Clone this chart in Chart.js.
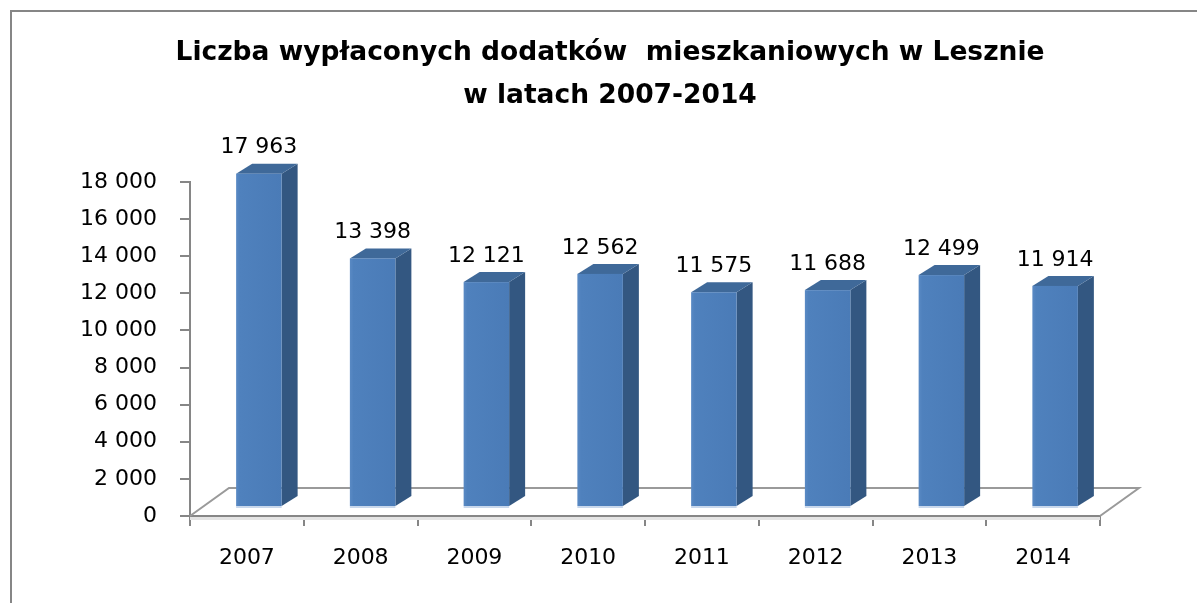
<!DOCTYPE html>
<html>
<head>
<meta charset="utf-8">
<title>Dodatki mieszkaniowe w Lesznie</title>
<script src="https://cdn.jsdelivr.net/npm/chart.js@4.4.0/dist/chart.umd.min.js"></script>
<style>
  html, body { margin: 0; padding: 0; background: #fff; }
  #wrap { width: 1197px; height: 603px; }
</style>
</head>
<body>
<div id="wrap"><canvas id="dodatki" width="1197" height="603"></canvas></div>
<script>
var years = ["2007", "2008", "2009", "2010", "2011", "2012", "2013", "2014"];
var payments = [17963, 13398, 12121, 12562, 11575, 11688, 12499, 11914];
var yTicks = [0, 2000, 4000, 6000, 8000, 10000, 12000, 14000, 16000, 18000];
var titleLines = ["Liczba wypłaconych dodatków  mieszkaniowych w Lesznie", "w latach 2007-2014"];

var numFont = "'DejaVu Sans', Verdana, sans-serif";
var frameGray = "#868686";

// 18000 -> "18 000"
function spaced(n) {
  return String(n).replace(/\B(?=(\d{3})+(?!\d))/g, " ");
}

// depth of the 3D columns and of the floor
var barDepth = { dx: 16, dy: -10 };
var barLift = 9;
var barShift = 12;
var floorDepth = { dx: 39, dy: -28 };

// outer frame and the two-line title; the frame runs past the right edge,
// so the title is centred on the whole frame, not on the canvas
var framePlugin = {
  id: 'frame',
  beforeDraw: function(chart) {
    var ctx = chart.ctx;
    ctx.save();
    ctx.fillStyle = "#fff";
    ctx.fillRect(0, 0, chart.width, chart.height);
    ctx.strokeStyle = frameGray;
    ctx.lineWidth = 2;
    ctx.beginPath();
    ctx.moveTo(11, chart.height);
    ctx.lineTo(11, 11);
    ctx.lineTo(chart.width, 11);
    ctx.stroke();

    ctx.fillStyle = "#000";
    ctx.font = "bold 26.5px 'DejaVu Sans', sans-serif";
    ctx.textAlign = "center";
    ctx.textBaseline = "middle";
    titleLines.forEach(function(line, i) {
      ctx.fillText(line, 610, 53 + i * 43);
    });
    ctx.restore();
  }
};

// floor of the 3D plot: back edge and side edges
var floorPlugin = {
  id: 'floor',
  beforeDatasetsDraw: function(chart) {
    var ctx = chart.ctx;
    var a = chart.chartArea;
    var y0 = chart.scales.y.getPixelForValue(0);
    ctx.save();
    ctx.fillStyle = "#e4e4e4";
    ctx.fillRect(a.left, y0 + 1, a.right - a.left, 3);
    ctx.strokeStyle = "#9a9a9a";
    ctx.lineWidth = 2;
    ctx.beginPath();
    ctx.moveTo(a.left, y0);
    ctx.lineTo(a.left + floorDepth.dx, y0 + floorDepth.dy);
    ctx.lineTo(a.right + floorDepth.dx, y0 + floorDepth.dy);
    ctx.lineTo(a.right, y0);
    ctx.stroke();
    ctx.restore();
  }
};

// draws each column as a box with front, top and side faces, plus its value
var columnPlugin = {
  id: 'columns',
  afterDatasetsDraw: function(chart) {
    var ctx = chart.ctx;
    var meta = chart.getDatasetMeta(0);
    var data = chart.data.datasets[0].data;
    ctx.save();
    meta.data.forEach(function(bar, i) {
      var w = bar.width;
      var x1 = bar.x + barShift - w / 2;
      var x2 = x1 + w;
      var top = bar.y - barLift;
      var base = bar.base - barLift;
      var dx = barDepth.dx, dy = barDepth.dy;

      // side face
      ctx.fillStyle = "#335781";
      ctx.beginPath();
      ctx.moveTo(x2, top);
      ctx.lineTo(x2 + dx, top + dy);
      ctx.lineTo(x2 + dx, base + dy);
      ctx.lineTo(x2, base);
      ctx.closePath();
      ctx.fill();

      // top face
      ctx.fillStyle = "#3f6999";
      ctx.beginPath();
      ctx.moveTo(x1, top);
      ctx.lineTo(x1 + dx, top + dy);
      ctx.lineTo(x2 + dx, top + dy);
      ctx.lineTo(x2, top);
      ctx.closePath();
      ctx.fill();

      // front face
      var g = ctx.createLinearGradient(x1, 0, x2, 0);
      g.addColorStop(0, "#5a8ac4");
      g.addColorStop(0.08, "#4f81bd");
      g.addColorStop(1, "#4a7bb7");
      ctx.fillStyle = g;
      ctx.fillRect(x1, top, w, base - top);
      ctx.fillStyle = "#c9d8ec";
      ctx.fillRect(x1, base, w, 2);

      // value label
      ctx.fillStyle = "#000";
      ctx.font = "22px " + numFont;
      ctx.textAlign = "center";
      ctx.textBaseline = "middle";
      ctx.fillText(spaced(data[i]), bar.x + barShift, top - 26);
    });
    ctx.restore();
  }
};

var ctx = document.getElementById("dodatki").getContext('2d');
var myChart = new Chart(ctx, {
  type: 'bar',
  plugins: [framePlugin, floorPlugin, columnPlugin],
  data: {
    labels: years,
    datasets: [{
      data: payments,
      backgroundColor: "rgba(0,0,0,0)",
      borderWidth: 0,
      barPercentage: 0.4,
      categoryPercentage: 1
    }]
  },
  options: {
    responsive: false,
    animation: false,
    devicePixelRatio: 1,
    layout: {
      padding: { top: 182, left: 10, right: 97, bottom: 0 }
    },
    plugins: {
      legend: { display: false },
      tooltip: { enabled: false },
      title: { display: false }
    },
    scales: {
      x: {
        grid: {
          display: true,
          drawOnChartArea: false,
          drawTicks: true,
          tickLength: 10,
          color: frameGray,
          lineWidth: 2
        },
        border: { display: true, color: frameGray, width: 2 },
        ticks: {
          color: "#000",
          padding: 19,
          font: { family: numFont, size: 22 }
        },
        afterFit: function(scale) { scale.height = 87; }
      },
      y: {
        min: 0,
        max: 18000,
        afterBuildTicks: function(scale) {
          scale.ticks = yTicks.map(function(v) { return { value: v }; });
        },
        grid: {
          display: true,
          drawOnChartArea: false,
          drawTicks: true,
          tickLength: 10,
          color: frameGray,
          lineWidth: 2
        },
        border: { display: true, color: frameGray, width: 2 },
        ticks: {
          color: "#000",
          padding: 23,
          font: { family: numFont, size: 22 },
          callback: function(v) { return spaced(v); }
        },
        afterFit: function(scale) { scale.width = 180; }
      }
    }
  }
});
</script>
</body>
</html>
